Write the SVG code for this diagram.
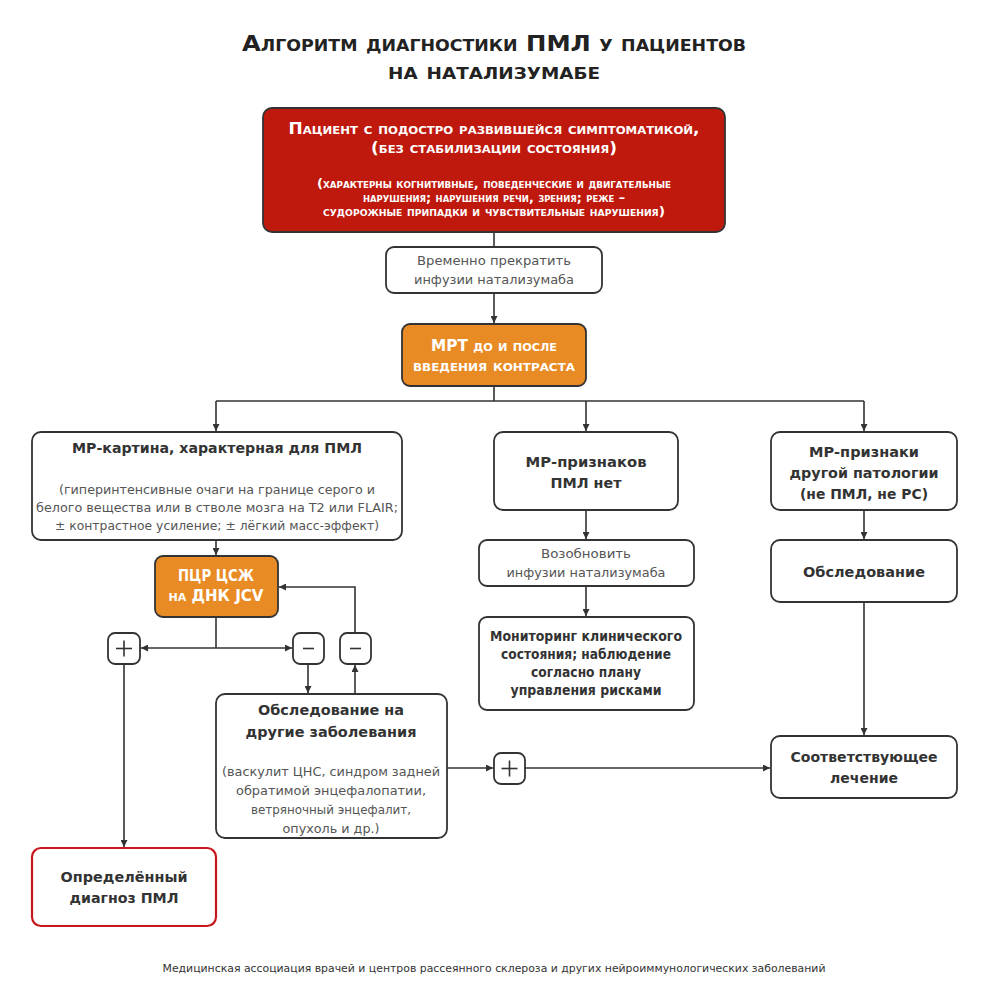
<svg xmlns="http://www.w3.org/2000/svg" width="988" height="1003" viewBox="0 0 988 1003">
<defs>
<marker id="ah" viewBox="0 0 10 10" refX="10" refY="5" markerWidth="7" markerHeight="7" orient="auto" markerUnits="userSpaceOnUse">
<path d="M0,0 L10,5 L0,10 z" fill="#333"/>
</marker>
<style>
.box{fill:#fff;stroke:#333;stroke-width:1.8}
.red{fill:#BF180D;stroke:#333;stroke-width:1.8}
.org{fill:#E98B25;stroke:#333;stroke-width:1.8}
.redo{fill:#fff;stroke:#C8171C;stroke-width:2.2}
.ln{fill:none;stroke:#333;stroke-width:1.6}
.arr{fill:none;stroke:#333;stroke-width:1.6;marker-end:url(#ah)}
text{font-family:"DejaVu Sans","Noto Sans",sans-serif;text-anchor:middle}
.b{font-weight:bold;font-size:14px;fill:#333}
.r{font-size:13px;fill:#555}
.sc{font-variant:small-caps;font-weight:bold}
.sign{font-size:22px;fill:#333;font-family:"DejaVu Sans",sans-serif}
</style>
</defs>
<rect width="988" height="1003" fill="#fff"/>
<g id="title">
<text x="494" y="51" class="sc" font-size="21" fill="#222" textLength="504" lengthAdjust="spacingAndGlyphs">Алгоритм диагностики ПМЛ у пациентов</text>
<text x="494" y="79" class="sc" font-size="21" fill="#222" textLength="212" lengthAdjust="spacingAndGlyphs">на натализумабе</text>
</g>
<g id="connectors">
<line class="ln" x1="494" y1="232" x2="494" y2="247"/>
<line class="arr" x1="494" y1="293" x2="494" y2="323"/>
<polyline class="ln" points="494,386 494,401"/>
<polyline class="ln" points="216,401 864,401"/>
<line class="arr" x1="216" y1="401" x2="216" y2="431"/>
<line class="arr" x1="586" y1="401" x2="586" y2="431"/>
<line class="arr" x1="864" y1="401" x2="864" y2="431"/>
<line class="arr" x1="586" y1="510" x2="586" y2="539"/>
<line class="arr" x1="586" y1="586" x2="586" y2="616"/>
<line class="arr" x1="864" y1="510" x2="864" y2="539"/>
<line class="arr" x1="864" y1="602" x2="864" y2="735"/>
<line class="arr" x1="216" y1="540" x2="216" y2="555"/>
<line class="ln" x1="216" y1="617" x2="216" y2="648"/>
<line class="arr" x1="216" y1="648" x2="141" y2="648"/>
<line class="arr" x1="216" y1="648" x2="292" y2="648"/>
<line class="arr" x1="308" y1="664" x2="308" y2="693"/>
<line class="arr" x1="355" y1="694" x2="355" y2="665"/>
<polyline class="arr" points="355,633 355,587 279,587"/>
<line class="arr" x1="124" y1="664" x2="124" y2="847"/>
<line class="arr" x1="447" y1="768" x2="493" y2="768"/>
<line class="arr" x1="525" y1="768" x2="770" y2="768"/>
</g>
<g id="n_patient">
<rect class="red" x="263" y="108" width="462" height="124" rx="9"/>
<text x="494" y="134" class="sc" font-size="16" fill="#fff" textLength="411" lengthAdjust="spacingAndGlyphs">Пациент с подостро развившейся симптоматикой,</text>
<text x="494" y="153" class="sc" font-size="16" fill="#fff" textLength="246" lengthAdjust="spacingAndGlyphs">(без стабилизации состояния)</text>
<text x="494" y="188" class="sc" font-size="12" fill="#fff" textLength="354" lengthAdjust="spacingAndGlyphs">(характерны когнитивные, поведенческие и двигательные</text>
<text x="494" y="202" class="sc" font-size="12" fill="#fff" textLength="262" lengthAdjust="spacingAndGlyphs">нарушения; нарушения речи, зрения; реже –</text>
<text x="494" y="216" class="sc" font-size="12" fill="#fff" textLength="342" lengthAdjust="spacingAndGlyphs">судорожные припадки и чувствительные нарушения)</text>
</g>
<g id="n_stop">
<rect class="box" x="386" y="247" width="216" height="46" rx="8"/>
<text x="494" y="265" class="r" textLength="154" lengthAdjust="spacingAndGlyphs">Временно прекратить</text>
<text x="494" y="284" class="r" textLength="160" lengthAdjust="spacingAndGlyphs">инфузии натализумаба</text>
</g>
<g id="n_mri">
<rect class="org" x="402" y="324" width="184" height="62" rx="8"/>
<text x="494" y="351" class="sc" font-size="15" fill="#fff" textLength="126" lengthAdjust="spacingAndGlyphs">МРТ до и после</text>
<text x="494" y="371" class="sc" font-size="15" fill="#fff" textLength="162" lengthAdjust="spacingAndGlyphs">введения контраста</text>
</g>
<g id="n_pml_picture">
<rect class="box" x="32" y="432" width="370" height="108" rx="9"/>
<text x="217" y="453" class="b" textLength="290" lengthAdjust="spacingAndGlyphs">МР-картина, характерная для ПМЛ</text>
<text x="217" y="494" class="r" textLength="316" lengthAdjust="spacingAndGlyphs">(гиперинтенсивные очаги на границе серого и</text>
<text x="217" y="512" class="r" textLength="362" lengthAdjust="spacingAndGlyphs">белого вещества или в стволе мозга на Т2 или FLAIR;</text>
<text x="217" y="530" class="r" textLength="324" lengthAdjust="spacingAndGlyphs">± контрастное усиление; ± лёгкий масс-эффект)</text>
</g>
<g id="n_no_pml">
<rect class="box" x="494" y="432" width="184" height="78" rx="9"/>
<text x="586" y="467" class="b" textLength="121" lengthAdjust="spacingAndGlyphs">МР-признаков</text>
<text x="586" y="488" class="b" textLength="71" lengthAdjust="spacingAndGlyphs">ПМЛ нет</text>
</g>
<g id="n_other">
<rect class="box" x="771" y="432" width="186" height="78" rx="9"/>
<text x="864" y="457" class="b" textLength="110" lengthAdjust="spacingAndGlyphs">МР-признаки</text>
<text x="864" y="478" class="b" textLength="149" lengthAdjust="spacingAndGlyphs">другой патологии</text>
<text x="864" y="499" class="b" textLength="128" lengthAdjust="spacingAndGlyphs">(не ПМЛ, не РС)</text>
</g>
<g id="n_resume">
<rect class="box" x="479" y="540" width="215" height="46" rx="8"/>
<text x="586" y="558" class="r" textLength="90" lengthAdjust="spacingAndGlyphs">Возобновить</text>
<text x="586" y="577" class="r" textLength="159" lengthAdjust="spacingAndGlyphs">инфузии натализумаба</text>
</g>
<g id="n_monitor">
<rect class="box" x="479" y="617" width="215" height="93" rx="8"/>
<text x="586" y="641" class="b" font-size="13" textLength="192" lengthAdjust="spacingAndGlyphs">Мониторинг клинического</text>
<text x="586" y="659" class="b" font-size="13" textLength="170" lengthAdjust="spacingAndGlyphs">состояния; наблюдение</text>
<text x="586" y="677" class="b" font-size="13" textLength="110" lengthAdjust="spacingAndGlyphs">согласно плану</text>
<text x="586" y="695" class="b" font-size="13" textLength="151" lengthAdjust="spacingAndGlyphs">управления рисками</text>
</g>
<g id="n_exam">
<rect class="box" x="771" y="540" width="186" height="62" rx="9"/>
<text x="864" y="577" class="b" textLength="122" lengthAdjust="spacingAndGlyphs">Обследование</text>
</g>
<g id="n_treat">
<rect class="box" x="771" y="736" width="186" height="62" rx="9"/>
<text x="864" y="762" class="b" textLength="147" lengthAdjust="spacingAndGlyphs">Соответствующее</text>
<text x="864" y="783" class="b" textLength="68" lengthAdjust="spacingAndGlyphs">лечение</text>
</g>
<g id="n_pcr">
<rect class="org" x="155" y="556" width="123" height="61" rx="8"/>
<text x="216" y="581" class="sc" font-size="15" fill="#fff" textLength="76" lengthAdjust="spacingAndGlyphs">ПЦР ЦСЖ</text>
<text x="216" y="601" class="sc" font-size="15" fill="#fff" textLength="95" lengthAdjust="spacingAndGlyphs">на ДНК JCV</text>
</g>
<g id="n_plus1">
<rect class="box" x="108" y="633" width="32" height="31" rx="7"/>
<line class="ln" x1="116" y1="648.5" x2="132" y2="648.5" stroke-width="2"/>
<line class="ln" x1="124" y1="640.5" x2="124" y2="656.5" stroke-width="2"/>
</g>
<g id="n_minus1">
<rect class="box" x="293" y="633" width="31" height="31" rx="7"/>
<line class="ln" x1="303" y1="648.5" x2="314" y2="648.5" stroke-width="2.4"/>
</g>
<g id="n_minus2">
<rect class="box" x="340" y="633" width="31" height="31" rx="7"/>
<line class="ln" x1="350" y1="648.5" x2="361" y2="648.5" stroke-width="2.4"/>
</g>
<g id="n_other_dis">
<rect class="box" x="216" y="694" width="231" height="144" rx="9"/>
<text x="331" y="715" class="b" textLength="146" lengthAdjust="spacingAndGlyphs">Обследование на</text>
<text x="331" y="737" class="b" textLength="171" lengthAdjust="spacingAndGlyphs">другие заболевания</text>
<text x="331" y="776" class="r" textLength="218" lengthAdjust="spacingAndGlyphs">(васкулит ЦНС, синдром задней</text>
<text x="331" y="795" class="r" textLength="190" lengthAdjust="spacingAndGlyphs">обратимой энцефалопатии,</text>
<text x="331" y="814" class="r" textLength="160" lengthAdjust="spacingAndGlyphs">ветряночный энцефалит,</text>
<text x="331" y="833" class="r" textLength="97" lengthAdjust="spacingAndGlyphs">опухоль и др.)</text>
</g>
<g id="n_plus2">
<rect class="box" x="494" y="753" width="31" height="31" rx="7"/>
<line class="ln" x1="501.5" y1="768.5" x2="517.5" y2="768.5" stroke-width="2"/>
<line class="ln" x1="509.5" y1="760.5" x2="509.5" y2="776.5" stroke-width="2"/>
</g>
<g id="n_diag">
<rect class="redo" x="32" y="848" width="184" height="78" rx="9"/>
<text x="124" y="882" class="b" textLength="127" lengthAdjust="spacingAndGlyphs">Определённый</text>
<text x="124" y="903" class="b" textLength="109" lengthAdjust="spacingAndGlyphs">диагноз ПМЛ</text>
</g>
<g id="footer">
<text x="494" y="972" font-size="11" fill="#333" textLength="663" lengthAdjust="spacingAndGlyphs">Медицинская ассоциация врачей и центров рассеянного склероза и других нейроиммунологических заболеваний</text>
</g>
</svg>
